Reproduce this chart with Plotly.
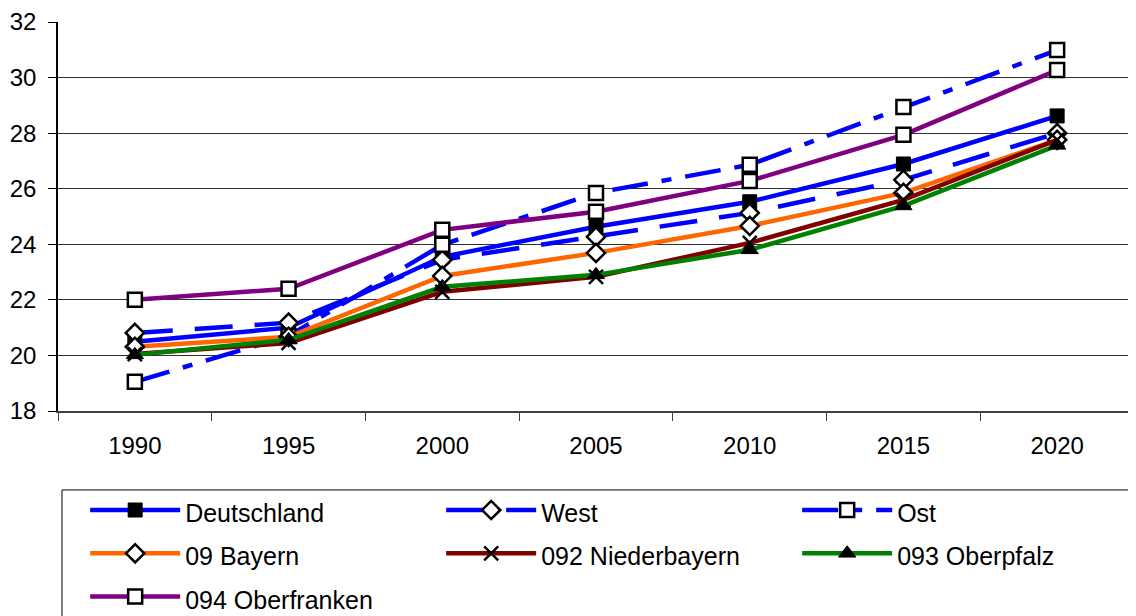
import plotly.graph_objects as go

years = ["1990", "1995", "2000", "2005", "2010", "2015", "2020"]

deutschland = [20.49, 21.00, 23.55, 24.63, 25.53, 26.89, 28.62]
west = [20.81, 21.18, 23.44, 24.27, 25.13, 26.32, 28.00]
ost = [19.05, 20.70, 23.98, 25.85, 26.86, 28.94, 30.99]
bayern = [20.31, 20.67, 22.86, 23.69, 24.66, 25.85, 27.76]
niederbayern = [20.05, 20.45, 22.29, 22.83, 24.05, 25.60, 27.76]
oberpfalz = [20.02, 20.56, 22.47, 22.90, 23.80, 25.38, 27.56]
oberfranken = [22.00, 22.40, 24.52, 25.17, 26.28, 27.94, 30.27]

y_ticks = [18, 20, 22, 24, 26, 28, 30, 32]

series = [
    ("Deutschland", deutschland, "#0000FF", "solid",
     dict(symbol="square", color="black", size=14, line=dict(color="black", width=1))),
    ("West", west, "#0000FF", "38px,22px",
     dict(symbol="diamond", color="white", size=14, line=dict(color="black", width=2.5))),
    ("Ost", ost, "#0000FF", "36px,14px,10px,14px",
     dict(symbol="square", color="white", size=14, line=dict(color="black", width=2.5))),
    ("09 Bayern", bayern, "#FF6600", "solid",
     dict(symbol="diamond", color="white", size=14, line=dict(color="black", width=2.5))),
    ("092 Niederbayern", niederbayern, "#800000", "solid",
     dict(symbol="x-thin", color="black", size=14, line=dict(color="black", width=2.5))),
    ("093 Oberpfalz", oberpfalz, "#008000", "solid",
     dict(symbol="triangle-up", color="black", size=15, line=dict(color="black", width=1))),
    ("094 Oberfranken", oberfranken, "#800080", "solid",
     dict(symbol="square", color="white", size=14, line=dict(color="black", width=2.5))),
]

font_family = "Arial, Liberation Sans, sans-serif"

fig = go.Figure()
for name, vals, color, dash, marker in series:
    fig.add_trace(go.Scatter(
        x=years, y=vals,
        name='<span style="font-size:25px">' + name + '</span>',
        mode="lines+markers",
        line=dict(color=color, width=4.5, dash=dash),
        marker=marker,
    ))

fig.update_layout(
    width=1128, height=608,
    margin=dict(l=50, r=0, t=14, b=205, autoexpand=False),
    paper_bgcolor="white", plot_bgcolor="white",
    font=dict(family=font_family, size=24, color="black"),
    showlegend=True,
    legend=dict(
        orientation="h", x=0.0252, xanchor="left", y=-0.186, yanchor="top",
        borderwidth=0, bgcolor="rgba(0,0,0,0)",
        font=dict(family=font_family, size=31, color="black"),
        itemwidth=90, entrywidth=251, entrywidthmode="pixels",
        traceorder="normal",
    ),
    shapes=[dict(
        type="rect", xref="paper", yref="paper",
        x0=0.0037, x1=1.02, y0=-0.203, y1=-0.62,
        line=dict(color="black", width=1), fillcolor="rgba(0,0,0,0)",
        layer="below",
    )],
    xaxis=dict(
        type="category", range=[-0.5, 6.513],
        showgrid=False, showline=True, linecolor="#404040", linewidth=2,
        ticks="outside", tickson="boundaries", ticklen=8, tickcolor="#404040",
        ticklabelstandoff=12, zeroline=False,
    ),
    yaxis=dict(
        range=[18, 32], tickvals=y_ticks, showgrid=True, gridcolor="#303030", gridwidth=1,
        showline=True, linecolor="black", linewidth=1.5,
        ticks="outside", ticklen=8, tickcolor="black", ticklabelstandoff=7,
        zeroline=False,
    ),
)

fig.write_html("out.html")
